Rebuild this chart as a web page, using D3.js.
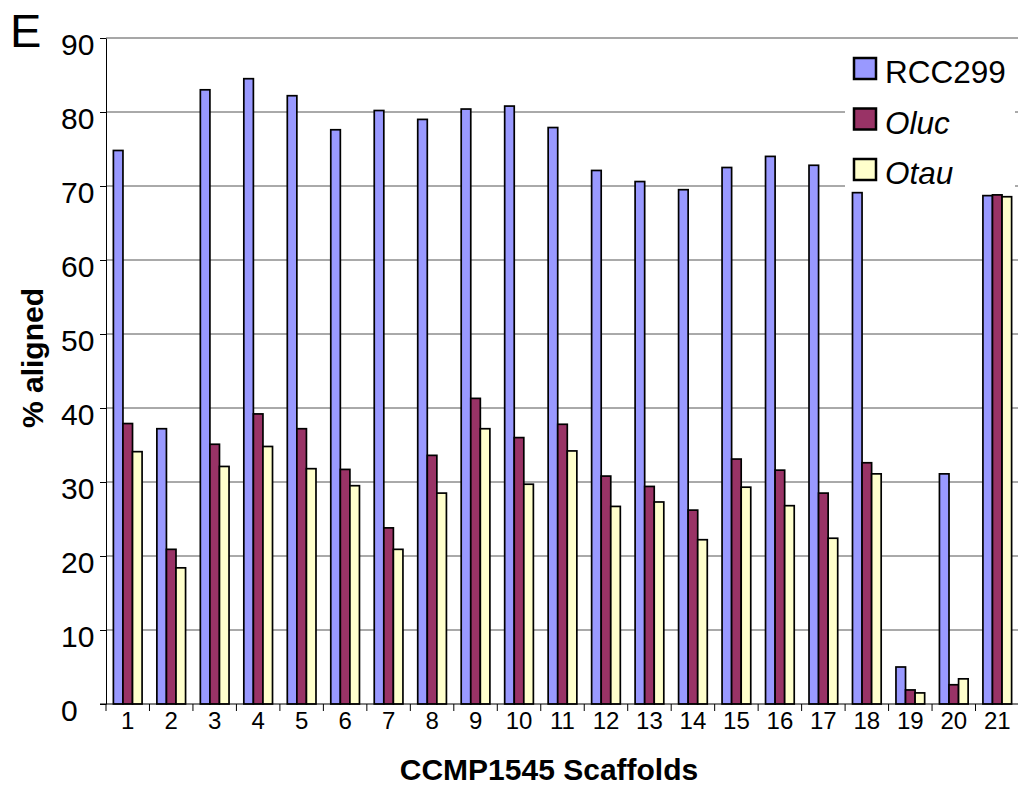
<!DOCTYPE html>
<html>
<head>
<meta charset="utf-8">
<script src="https://cdn.jsdelivr.net/npm/d3@7"></script>
<style>
  html, body { margin: 0; padding: 0; background: #fff; }
  svg { display: block; font-family: "Liberation Sans", Arial, sans-serif; }
</style>
</head>
<body>
<svg id="chart" width="1018" height="787"></svg>
<script>
// Scaffold labels along the x axis
const categories = ["1","2","3","4","5","6","7","8","9","10","11","12","13","14","15","16","17","18","19","20","21"];

// Series names and their % aligned values per scaffold
const seriesNames = ["RCC299", "Oluc", "Otau"];
const rcc299 = [74.8, 37.2, 83.0, 84.5, 82.2, 77.6, 80.2, 79.0, 80.4, 80.8, 77.9, 72.1, 70.6, 69.5, 72.5, 74.0, 72.8, 69.1, 5.0, 31.1, 68.7];
const oluc   = [37.9, 20.9, 35.1, 39.2, 37.2, 31.7, 23.8, 33.6, 41.3, 36.0, 37.8, 30.8, 29.4, 26.2, 33.1, 31.6, 28.5, 32.6, 1.9, 2.6, 68.8];
const otau   = [34.1, 18.4, 32.1, 34.8, 31.8, 29.5, 20.9, 28.5, 37.2, 29.7, 34.2, 26.7, 27.3, 22.2, 29.3, 26.8, 22.4, 31.1, 1.5, 3.4, 68.55];
const seriesValues = [rcc299, oluc, otau];
const seriesColors = ["#9999ff", "#993366", "#ffffcc"];

// Value axis ticks
const yTicks = [0, 10, 20, 30, 40, 50, 60, 70, 80, 90];

const svg = d3.select("#chart");

const plot = { left: 106, right: 1019, top: 38, bottom: 704 };

const y = d3.scaleLinear().domain([0, 90]).range([plot.bottom, plot.top]);
const x = d3.scaleBand().domain(categories).range([plot.left, plot.right]).padding(0);
const xs = d3.scaleBand().domain(seriesNames)
  .range([x.bandwidth() * 0.17, x.bandwidth() * 0.83]).padding(0);

// Horizontal gridlines
svg.append("g")
  .selectAll("line")
  .data(yTicks.filter(d => d > 0))
  .join("line")
  .attr("x1", plot.left).attr("x2", 1018)
  .attr("y1", d => y(d)).attr("y2", d => y(d))
  .attr("stroke", d => d === 90 ? "#8a8a8a" : "#555")
  .attr("stroke-width", d => d === 90 ? 1.6 : 1);

// Grouped bars
const rows = categories.map((c, i) => ({ c, vals: seriesNames.map((s, k) => ({ s, v: seriesValues[k][i], k })) }));
svg.append("g")
  .selectAll("g")
  .data(rows)
  .join("g")
  .attr("transform", d => `translate(${x(d.c)},0)`)
  .selectAll("rect")
  .data(d => d.vals)
  .join("rect")
  .attr("x", d => xs(d.s))
  .attr("width", xs.bandwidth())
  .attr("y", d => y(d.v))
  .attr("height", d => y(0) - y(d.v))
  .attr("fill", d => seriesColors[d.k])
  .attr("stroke", "#000")
  .attr("stroke-width", 1.7);

// Y axis
const yAxis = svg.append("g")
  .attr("transform", `translate(${plot.left},0)`)
  .call(d3.axisLeft(y).tickValues(yTicks).tickSize(6).tickSizeOuter(0));
yAxis.select(".domain").attr("stroke", "#000");
yAxis.selectAll(".tick line").attr("stroke", "#000");
yAxis.selectAll(".tick text")
  .attr("text-anchor", "start")
  .attr("x", -45)
  .attr("dy", "0.55em")
  .attr("fill", "#000")
  .style("font-size", "30px")
  .style("font-family", "'Liberation Sans', Arial, sans-serif");

// X axis: labels centred in each band, ticks on band boundaries
const xAxis = svg.append("g")
  .attr("transform", `translate(0,${plot.bottom})`)
  .call(d3.axisBottom(x).tickSize(0).tickSizeOuter(0));
xAxis.select(".domain").remove();
xAxis.selectAll(".tick text")
  .attr("y", 25)
  .attr("dy", 0)
  .attr("fill", "#000")
  .style("font-size", "24px")
  .style("font-family", "'Liberation Sans', Arial, sans-serif");

svg.append("line")
  .attr("x1", 100).attr("x2", 1018)
  .attr("y1", plot.bottom).attr("y2", plot.bottom)
  .attr("stroke", "#000").attr("stroke-width", 1.2);

svg.append("g")
  .selectAll("line")
  .data(categories)
  .join("line")
  .attr("x1", d => x(d)).attr("x2", d => x(d))
  .attr("y1", plot.bottom).attr("y2", plot.bottom + 7)
  .attr("stroke", "#000");

// Axis titles
svg.append("text")
  .attr("x", 549).attr("y", 780)
  .attr("text-anchor", "middle")
  .style("font-size", "30px").style("font-weight", "bold")
  .text("CCMP1545 Scaffolds");

svg.append("text")
  .attr("transform", "translate(43,358) rotate(-90)")
  .attr("text-anchor", "middle")
  .style("font-size", "30px").style("font-weight", "bold")
  .text("% aligned");

// Panel letter
svg.append("text")
  .attr("x", 10).attr("y", 47)
  .style("font-size", "47px")
  .text("E");

// Legend
const legend = svg.append("g");
legend.append("rect")
  .attr("x", 845).attr("y", 46).attr("width", 170).attr("height", 144)
  .attr("fill", "#fff");
const item = legend.selectAll("g.item")
  .data(seriesNames)
  .join("g")
  .attr("class", "item")
  .attr("transform", (d, i) => `translate(854,${58 + i * 50.5})`);
item.append("rect")
  .attr("width", 22).attr("height", 21)
  .attr("fill", (d, i) => seriesColors[i])
  .attr("stroke", "#000").attr("stroke-width", 2.5);
item.append("text")
  .attr("x", 31).attr("y", 25)
  .style("font-size", "31.5px")
  .style("font-style", (d, i) => i === 0 ? "normal" : "italic")
  .text(d => d);
</script>
</body>
</html>
